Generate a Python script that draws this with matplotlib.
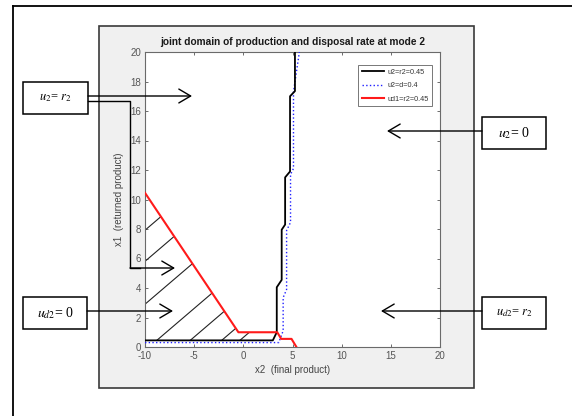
import numpy as np
import matplotlib
matplotlib.use("Agg")
import matplotlib.pyplot as plt
from matplotlib.transforms import Affine2D
from matplotlib.patches import Rectangle, FancyArrowPatch
from matplotlib.lines import Line2D

plt.rcParams['font.family'] = ['Liberation Sans', 'DejaVu Sans']
plt.rcParams['mathtext.fontset'] = 'stix'
plt.rcParams['axes.unicode_minus'] = False

# ---- data ----
black_x = [-10, 3.0, 3.4, 3.4, 3.9, 3.9, 4.25, 4.25, 4.75, 4.75, 5.25, 5.25]
black_y = [0.45, 0.45, 1.0, 4.05, 4.55, 7.95, 8.3, 11.5, 11.9, 17.0, 17.35, 20]
blue_x = [-10, 3.6, 4.05, 4.05, 4.4, 4.4, 4.8, 4.8, 5.1, 5.1, 5.7]
blue_y = [0.3, 0.3, 1.1, 3.35, 3.9, 7.9, 8.45, 11.7, 12.1, 17.3, 20]
red_x = [-10, -0.5, 3.45, 3.85, 4.9, 5.4]
red_y = [10.45, 1.0, 1.0, 0.55, 0.55, 0.0]
labels = ['u2=r2=0.45', 'u2=d=0.4', 'ud1=r2=0.45']
xticks = [-10, -5, 0, 5, 10, 15, 20]
yticks = list(range(0, 21, 2))
hatch_x0 = [-23.1, -19.4, -14.3, -8.8, -5.4, -2.2, -0.35]
hatch_slope = 0.57

W, H = 572, 416
fig = plt.figure(figsize=(W / 100, H / 100), dpi=100)
px = Affine2D().scale(1 / W, -1 / H).translate(0, 1) + fig.transFigure

# outer frame lines
fig.add_artist(Line2D([13, 572], [6, 6], transform=px, color='black', lw=1.3))
fig.add_artist(Line2D([13, 13], [6, 416], transform=px, color='black', lw=1.3))

# gray panel
fig.add_artist(Rectangle((99, 26), 375, 362, transform=px, facecolor='#f0f0f0',
                         edgecolor='#3a3a3a', lw=1.2, zorder=0))

ax = fig.add_axes([145 / W, 1 - 347 / H, 295 / W, 295 / H])
ax.set_facecolor('white')
ax.set_xlim(-10, 20)
ax.set_ylim(0, 20)
ax.set_xticks(xticks)
ax.set_yticks(yticks)
ax.tick_params(direction='in', top=True, right=True, length=2.5, width=0.6,
               labelsize=7, colors='#555555', pad=3)
for s in ax.spines.values():
    s.set_color('#6a6a6a')
    s.set_linewidth(0.8)

ax.plot(black_x, black_y, color='black', lw=1.3, label=labels[0], zorder=4)
ax.plot(blue_x, blue_y, color='#1f1fff', lw=1.0, ls=':', label=labels[1], zorder=3)
ax.plot(red_x, red_y, color='#ff1a1a', lw=1.5, label=labels[2], zorder=5)

# hatched area under the red line
n = 3
poly = ax.fill_between(red_x[:n], 0.45, red_y[:n], facecolor='none', edgecolor='none')
for x0 in hatch_x0:
    ln = ax.axline((x0, 0.45), slope=hatch_slope, color='#222222', lw=0.8, zorder=2)
    ln.set_clip_path(poly.get_paths()[0], poly.get_transform())

ax.set_title('joint domain of production and disposal rate at mode 2',
             fontsize=7.3, fontweight='bold', color='#1a1a1a', pad=5)
ax.set_xlabel('x2  (final product)', fontsize=7, color='#444444', labelpad=3)
ax.set_ylabel('x1  (returned product)', fontsize=7, color='#444444', labelpad=4)

leg = ax.legend(loc='upper right', bbox_to_anchor=(0.973, 0.956), borderaxespad=0,
                fontsize=5.2, fancybox=False, framealpha=1, edgecolor='#777777',
                handlelength=3.0, labelspacing=0.9, borderpad=0.5, handletextpad=0.5)
leg.get_frame().set_linewidth(0.7)
for t in leg.get_texts():
    t.set_color('#333333')

# annotation boxes
boxes = [
    ((23, 82, 65, 32), r'$u_2$= $r_2$', 9),
    ((482, 117, 64, 32), r'$u_2$= 0', 10),
    ((23, 297, 64, 32), r'$u_{d2}$= 0', 10),
    ((482, 297, 64, 32), r'$u_{d2}$= $r_2$', 9),
]
for (x, y, w, h), txt, fs in boxes:
    fig.add_artist(Rectangle((x, y), w, h, transform=px, facecolor='white',
                             edgecolor='black', lw=1.1, zorder=6))
    fig.text(x + w / 2, y + h / 2, txt, transform=px, ha='center', va='center',
             fontsize=fs, family=['Liberation Serif', 'DejaVu Serif'], zorder=7)

def arrow(x1, y1, x2, y2):
    fig.add_artist(FancyArrowPatch((x1, y1), (x2, y2), transform=px,
                                   arrowstyle='->,head_length=0.85,head_width=0.5',
                                   mutation_scale=10, color='black', lw=1.0,
                                   shrinkA=0, shrinkB=0, zorder=8))

arrow(88, 96, 192, 96)
fig.add_artist(Line2D([88, 130, 130, 140], [101, 101, 268, 268], transform=px,
                      color='black', lw=1.0, zorder=8))
arrow(130, 268, 175, 268)
arrow(87, 311, 173, 311)
arrow(482, 131, 387, 131)
arrow(482, 311, 381, 311)

fig.savefig('out.png', dpi=100)
